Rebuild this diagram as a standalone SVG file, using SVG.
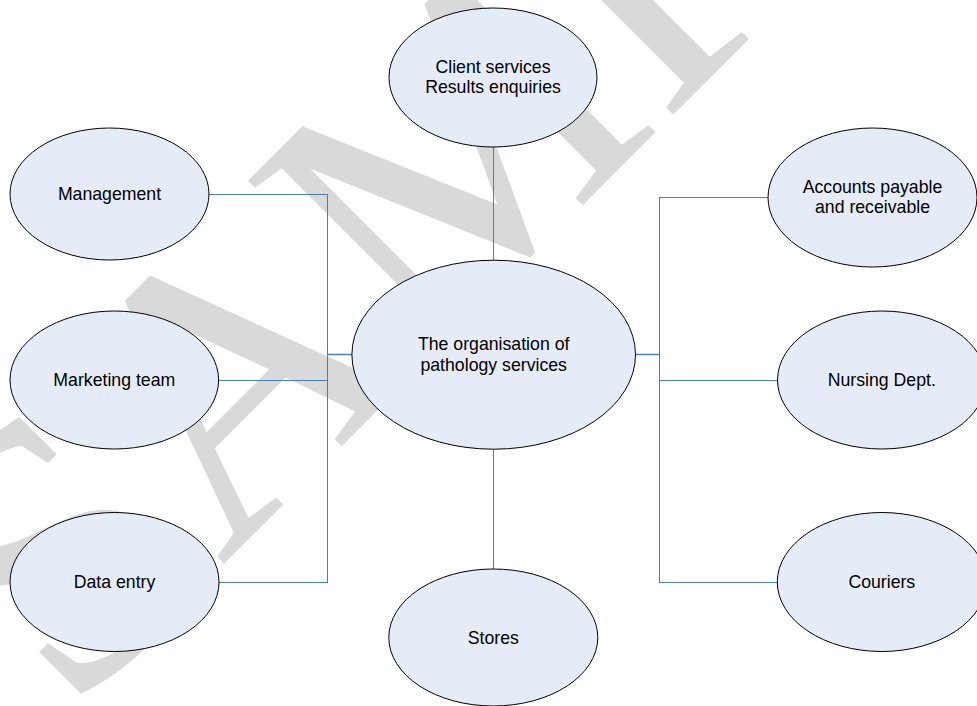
<svg xmlns="http://www.w3.org/2000/svg" width="977" height="706" viewBox="0 0 977 706">
<style>
.node ellipse{fill:#E6ECF7;stroke:#000;stroke-width:1}
.node text{font-family:"Liberation Sans",Arial,sans-serif;font-size:17.7px;fill:#000;text-anchor:middle}
.conn line{stroke:#4A7EBB;stroke-width:1;fill:none}
.wm{font-family:"Liberation Serif","Times New Roman",serif;font-size:388px;fill:#D9D9D9}
</style>
<rect width="977" height="706" fill="#fff"/>
<g id="watermark">
<text class="wm" x="69" y="719" transform="rotate(-45 69 719)">SAMPLE</text>
</g>
<g id="connectors" class="conn">
<line x1="493.5" y1="147" x2="493.5" y2="260"/>
<line x1="493.5" y1="449" x2="493.5" y2="569"/>
<line x1="327.5" y1="194" x2="327.5" y2="583"/>
<line x1="209" y1="194.5" x2="327.5" y2="194.5"/>
<line x1="218.5" y1="380.5" x2="327.5" y2="380.5"/>
<line x1="218.5" y1="582.5" x2="327.5" y2="582.5"/>
<line x1="327.5" y1="354.5" x2="352" y2="354.5" style="stroke-width:1.5"/>
<line x1="659.5" y1="197" x2="659.5" y2="583"/>
<line x1="659.5" y1="197.5" x2="768" y2="197.5"/>
<line x1="659.5" y1="380.5" x2="777.5" y2="380.5"/>
<line x1="659.5" y1="582.5" x2="777.5" y2="582.5"/>
<line x1="635.5" y1="354.5" x2="659.5" y2="354.5" style="stroke-width:1.5"/>
</g>
<g id="client" class="node">
<ellipse cx="493" cy="77.5" rx="104" ry="69.5"/>
<text x="493" y="72.5">Client services</text>
<text x="493" y="93.2">Results enquiries</text>
</g>
<g id="management" class="node">
<ellipse cx="109.5" cy="194" rx="99.5" ry="66"/>
<text x="109.5" y="200.3">Management</text>
</g>
<g id="marketing" class="node">
<ellipse cx="114.3" cy="380" rx="104.3" ry="69"/>
<text x="114.3" y="386.3">Marketing team</text>
</g>
<g id="dataentry" class="node">
<ellipse cx="114.5" cy="582" rx="104.5" ry="69.5"/>
<text x="114.5" y="588.3">Data entry</text>
</g>
<g id="center" class="node">
<ellipse cx="493.7" cy="354.7" rx="141.8" ry="94.5"/>
<text x="493.7" y="349.8">The organisation of</text>
<text x="493.7" y="370.5">pathology services</text>
</g>
<g id="stores" class="node">
<ellipse cx="493.3" cy="637.5" rx="104.5" ry="68.5"/>
<text x="493.3" y="643.8">Stores</text>
</g>
<g id="accounts" class="node">
<ellipse cx="872.5" cy="197.5" rx="104.5" ry="69.5"/>
<text x="872.5" y="192.7">Accounts payable</text>
<text x="872.5" y="213.3">and receivable</text>
</g>
<g id="nursing" class="node">
<ellipse cx="881.8" cy="380" rx="104.3" ry="69"/>
<text x="881.8" y="386.3">Nursing Dept.</text>
</g>
<g id="couriers" class="node">
<ellipse cx="881.8" cy="582" rx="104.5" ry="69.5"/>
<text x="881.8" y="588.3">Couriers</text>
</g>
</svg>
